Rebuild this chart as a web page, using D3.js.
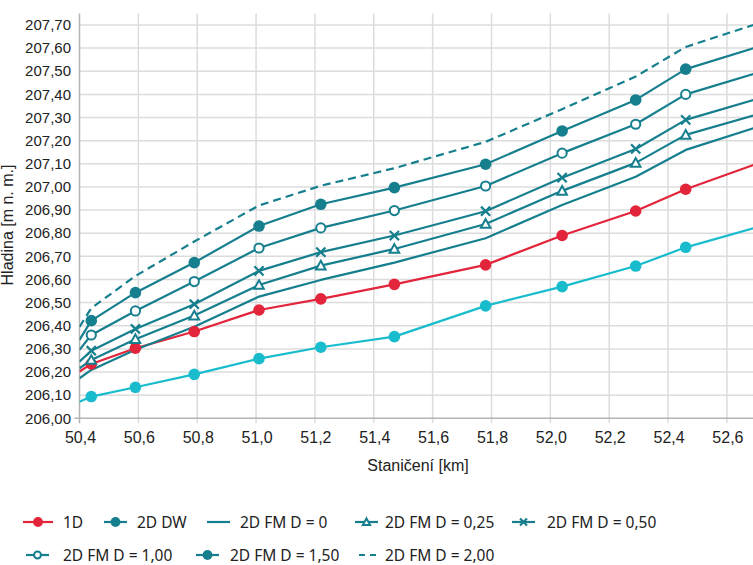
<!DOCTYPE html>
<html><head><meta charset="utf-8">
<script src="https://cdn.jsdelivr.net/npm/d3@7"></script>
<style>body{margin:0;background:#fff}svg{display:block}</style>
</head><body><svg id="c" width="753" height="565"></svg>
<script>
// Station [km]; first and last entries are where the lines meet the plot edges
const stations = [50.40, 50.44, 50.59, 50.79, 51.01, 51.22, 51.47, 51.78, 52.04, 52.29, 52.46, 52.69];
const v1D    = [206.202, 206.235, 206.303, 206.375, 206.468, 206.516, 206.579, 206.663, 206.790, 206.896, 206.990, 207.095];
const v2DDW  = [206.072, 206.094, 206.134, 206.190, 206.258, 206.307, 206.353, 206.486, 206.569, 206.658, 206.739, 206.821];
const vD000  = [206.173, 206.209, 206.296, 206.396, 206.526, 206.598, 206.673, 206.778, 206.922, 207.044, 207.160, 207.254];
const vD025  = [206.216, 206.252, 206.342, 206.444, 206.576, 206.660, 206.732, 206.840, 206.983, 207.104, 207.225, 207.309];
const vD050  = [206.245, 206.292, 206.386, 206.493, 206.637, 206.718, 206.790, 206.895, 207.040, 207.164, 207.290, 207.376];
const vD100  = [206.296, 206.360, 206.464, 206.591, 206.736, 206.823, 206.898, 207.004, 207.146, 207.271, 207.400, 207.488];
const vD150  = [206.339, 206.422, 206.543, 206.673, 206.831, 206.925, 206.997, 207.098, 207.242, 207.376, 207.509, 207.599];
const vD200  = [206.395, 206.476, 206.615, 206.764, 206.920, 207.005, 207.081, 207.195, 207.336, 207.477, 207.605, 207.700];

const xTicks = [50.4, 50.6, 50.8, 51.0, 51.2, 51.4, 51.6, 51.8, 52.0, 52.2, 52.4, 52.6];
const yTicks = [206.0, 206.1, 206.2, 206.3, 206.4, 206.5, 206.6, 206.7, 206.8, 206.9, 207.0, 207.1, 207.2, 207.3, 207.4, 207.5, 207.6, 207.7];
const seriesNames = ["1D", "2D DW", "2D FM D = 0", "2D FM D = 0,25", "2D FM D = 0,50", "2D FM D = 1,00", "2D FM D = 1,50", "2D FM D = 2,00"];
const xTitle = "Staničení [km]";
const yTitle = "Hladina [m n. m.]";

const RED = "#e2253b", TEAL = "#167f8e", CYAN = "#18bccd";
const series = [
  {name: seriesNames[1], values: v2DDW, color: CYAN, marker: "dot", legendColor: TEAL},
  {name: seriesNames[0], values: v1D,   color: RED,  marker: "dot"},
  {name: seriesNames[2], values: vD000, color: TEAL, marker: null},
  {name: seriesNames[3], values: vD025, color: TEAL, marker: "tri"},
  {name: seriesNames[4], values: vD050, color: TEAL, marker: "x"},
  {name: seriesNames[5], values: vD100, color: TEAL, marker: "open"},
  {name: seriesNames[6], values: vD150, color: TEAL, marker: "dot"},
  {name: seriesNames[7], values: vD200, color: TEAL, marker: null, dash: "8,5"}
];

const svg = d3.select("#c");
const pL = 79.5, pR = 753.4, pT = 13.4, pB = 418.3;
const x = d3.scaleLinear().domain([50.4, 52.69]).range([pL, pR]);
const y = d3.scaleLinear().domain([206.0, 207.75]).range([pB, pT]);
const fmt = (d, n) => d.toFixed(n).replace(".", ",");
const GRID = "#dcdcdc";

// grid
svg.append("g").selectAll("line").data(yTicks.slice(1)).join("line")
  .attr("x1", pL).attr("x2", 753).attr("y1", d => y(d)).attr("y2", d => y(d))
  .attr("stroke", GRID).attr("stroke-width", 1.5);
svg.append("g").selectAll("line").data(xTicks.slice(1)).join("line")
  .attr("x1", d => x(d)).attr("x2", d => x(d)).attr("y1", pT).attr("y2", pB + 5)
  .attr("stroke", GRID).attr("stroke-width", 1.5);
// axes
svg.append("line").attr("x1", pL).attr("x2", pL).attr("y1", pT).attr("y2", pB + 5)
  .attr("stroke", "#b4b4b4").attr("stroke-width", 1.5);
svg.append("line").attr("x1", pL - 5).attr("x2", 753).attr("y1", pB).attr("y2", pB)
  .attr("stroke", "#b4b4b4").attr("stroke-width", 1.5);

// tick labels
svg.append("g").selectAll("text").data(yTicks).join("text")
  .attr("x", 71).attr("y", d => y(d)).attr("dy", "0.35em").attr("text-anchor", "end")
  .attr("font-family", "Liberation Sans, Arial, sans-serif").attr("font-size", 15).attr("fill", "#222")
  .text(d => fmt(d, 2));
svg.append("g").selectAll("text").data(xTicks).join("text")
  .attr("x", d => x(d) + 1).attr("y", 443).attr("text-anchor", "middle")
  .attr("font-family", "Liberation Sans Narrow, Liberation Sans, Arial, sans-serif").attr("font-size", 16).attr("fill", "#222")
  .text(d => fmt(d, 1));
svg.append("text").attr("x", 418).attr("y", 471).attr("text-anchor", "middle")
  .attr("font-family", "Liberation Sans Narrow, Liberation Sans, Arial, sans-serif").attr("font-size", 16).attr("fill", "#222")
  .text(xTitle);
svg.append("text").attr("transform", "translate(13,225) rotate(-90)").attr("text-anchor", "middle")
  .attr("font-family", "Liberation Sans, Arial, sans-serif").attr("font-size", 16).attr("fill", "#222")
  .text(yTitle);

// clip
svg.append("clipPath").attr("id", "clip").append("rect")
  .attr("x", pL).attr("y", 0).attr("width", 753 - pL).attr("height", pB);

function drawMarker(g, type, color, cx, cy, s) {
  s = s || 1;
  if (type === "dot") {
    g.append("circle").attr("cx", cx).attr("cy", cy).attr("r", 5.8 * s).attr("fill", color);
  } else if (type === "open") {
    g.append("circle").attr("cx", cx).attr("cy", cy).attr("r", 4.6 * s).attr("fill", "#fff")
      .attr("stroke", color).attr("stroke-width", 2);
  } else if (type === "tri") {
    const h = 4.8 * s;
    g.append("path").attr("d", `M${cx},${cy - h}L${cx + h},${cy + h * 0.8}L${cx - h},${cy + h * 0.8}Z`)
      .attr("fill", "#fff").attr("stroke", color).attr("stroke-width", 2).attr("stroke-linejoin", "miter");
  } else if (type === "x") {
    const h = 4.6 * s;
    g.append("path").attr("d", `M${cx - h},${cy - h}L${cx + h},${cy + h}M${cx - h},${cy + h}L${cx + h},${cy - h}`)
      .attr("fill", "none").attr("stroke", color).attr("stroke-width", 2.2);
  }
}

const line = d3.line().x((d, i) => x(stations[i])).y(d => y(d));
const plot = svg.append("g");
series.forEach(s => {
  plot.append("path").datum(s.values).attr("d", line).attr("clip-path", "url(#clip)")
    .attr("fill", "none").attr("stroke", s.color).attr("stroke-width", 2.2)
    .attr("stroke-dasharray", s.dash || null).attr("stroke-linejoin", "round");
});
series.forEach(s => {
  if (!s.marker) return;
  s.values.forEach((v, i) => {
    if (i === 0 || i === s.values.length - 1) return;
    drawMarker(plot, s.marker, s.color, x(stations[i]), y(v));
  });
});

// legend
const legendOrder = [1, 0, 2, 3, 4, 5, 6, 7];
const legPos = [
  {x1: 23, x2: 53, tx: 63, y: 522}, {x1: 104, x2: 127, tx: 137, y: 522},
  {x1: 207, x2: 230, tx: 240, y: 522}, {x1: 355, x2: 378, tx: 385, y: 522},
  {x1: 512, x2: 535, tx: 547, y: 522},
  {x1: 26, x2: 49, tx: 63, y: 555}, {x1: 196, x2: 219, tx: 230, y: 555},
  {x1: 359, x2: 377, tx: 385, y: 555}
];
const lg = svg.append("g");
legendOrder.forEach((si, k) => {
  const s = series[si], p = legPos[k], c = s.legendColor || s.color;
  lg.append("line").attr("x1", p.x1).attr("x2", p.x2).attr("y1", p.y).attr("y2", p.y)
    .attr("stroke", c).attr("stroke-width", 2.2).attr("stroke-dasharray", s.dash ? "6,5" : null);
  if (s.marker) drawMarker(lg, s.marker, c, (p.x1 + p.x2) / 2, p.y, s.marker === "dot" ? 0.85 : 0.75);
  lg.append("text").attr("x", p.tx).attr("y", p.y).attr("dy", "0.36em")
    .attr("font-family", "Noto Sans, Open Sans, sans-serif").attr("font-size", 15.5).attr("fill", "#222")
    .text(s.name);
});
</script></body></html>
